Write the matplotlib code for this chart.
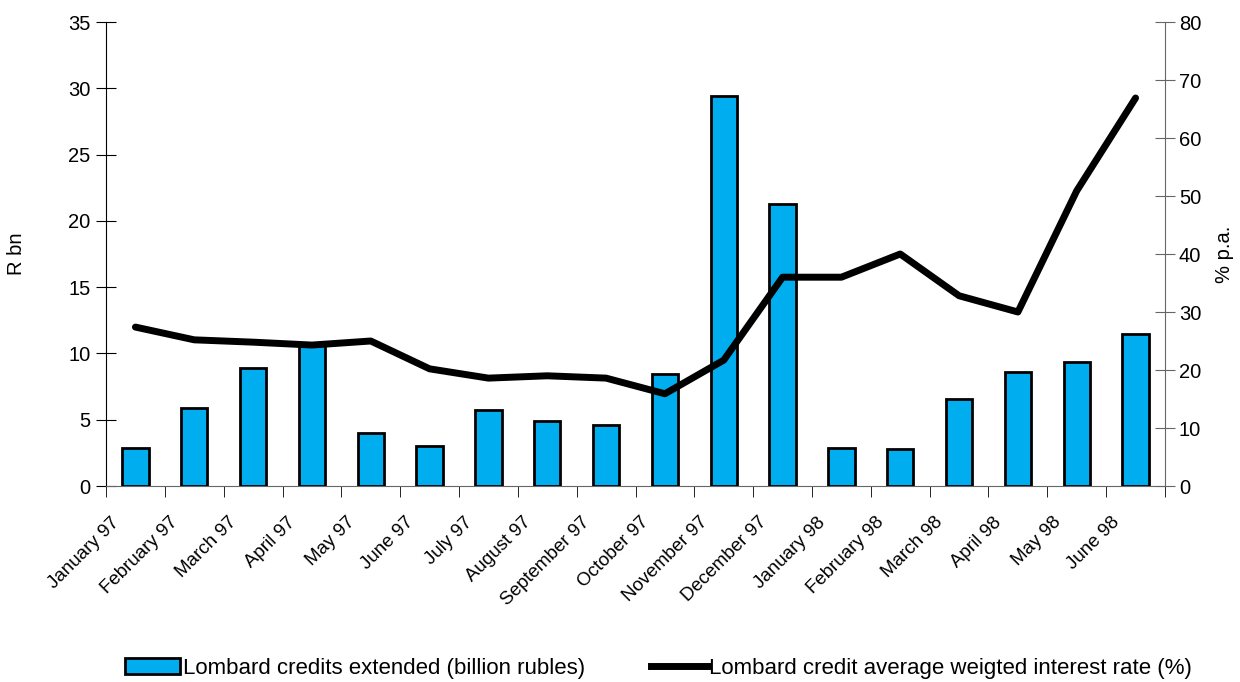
import matplotlib
matplotlib.use("Agg")
import matplotlib.pyplot as plt
import numpy as np
from matplotlib.patches import Patch
from matplotlib.lines import Line2D

plt.rcParams['font.family'] = ['Liberation Sans', 'DejaVu Sans']

categories = ["January 97", "February 97", "March 97", "April 97", "May 97", "June 97",
              "July 97", "August 97", "September 97", "October 97", "November 97",
              "December 97", "January 98", "February 98", "March 98", "April 98",
              "May 98", "June 98"]
credits = [2.9, 5.9, 8.9, 10.6, 4.0, 3.0, 5.7, 4.9, 4.6, 8.45, 29.4, 21.3,
           2.9, 2.8, 6.55, 8.6, 9.35, 11.45]
rate = [27.4, 25.2, 24.8, 24.3, 25.0, 20.2, 18.6, 19.0, 18.6, 15.9, 21.7, 36.0,
        36.0, 40.0, 32.8, 30.0, 50.9, 66.9]

bar_color = "#00AEEF"
fs = 14.5

fig = plt.figure(figsize=(12.4, 6.82), dpi=100)
ax = fig.add_axes([106/1240, 1-486/682, (1165-106)/1240, (486-22)/682])
ax2 = ax.twinx()

x = np.arange(len(categories))
ax.bar(x, credits, width=0.45, color=bar_color, edgecolor="black", linewidth=2, zorder=2)
ax2.plot(x, rate, color="black", linewidth=5, solid_capstyle="round", zorder=3)

ax.set_xlim(-0.5, len(categories) - 0.5)
ax.set_ylim(0, 35)
ax2.set_ylim(0, 80)
ax.set_yticks(np.arange(0, 36, 5))
ax2.set_yticks(np.arange(0, 81, 10))

ax.set_xticks(x - 0.42)
ax.set_xticklabels(categories, rotation=45, ha="right", rotation_mode="anchor", fontsize=13.5)
ax.tick_params(axis="x", length=0, pad=20)
ax.set_xticks(np.arange(-0.5, len(categories), 1), minor=True)
ax.tick_params(axis="x", which="minor", length=8, direction="out", color="black")

ax.tick_params(axis="y", direction="inout", length=14, labelsize=fs, pad=4)
ax2.tick_params(axis="y", direction="inout", length=14, labelsize=fs, pad=3, color="#666666")

for a in (ax, ax2):
    a.spines["top"].set_visible(False)
ax.spines["right"].set_visible(False)
ax2.spines["left"].set_visible(False)
ax2.spines["bottom"].set_visible(False)
ax2.spines["right"].set_color("#666666")
ax.spines["bottom"].set_color("#666666")

ax.set_ylabel("R bn", fontsize=fs)
ax.yaxis.set_label_coords(-80/1059, 0.5)
ax2.set_ylabel("% p.a.", fontsize=fs)
ax2.yaxis.set_label_coords(1 + 50/1059, 0.5)

handles = [Patch(facecolor=bar_color, edgecolor="black", linewidth=2),
           Line2D([0], [0], color="black", linewidth=5)]
labels = ["Lombard credits extended (billion rubles)",
          "Lombard credit average weigted interest rate (%)"]
fig.legend(handles, labels, loc="lower center", bbox_to_anchor=(0.531, -0.025), ncol=2,
           frameon=False, fontsize=16, handlelength=2.5, handletextpad=0.1, columnspacing=3.0)

fig.savefig("out.png", dpi=100)
